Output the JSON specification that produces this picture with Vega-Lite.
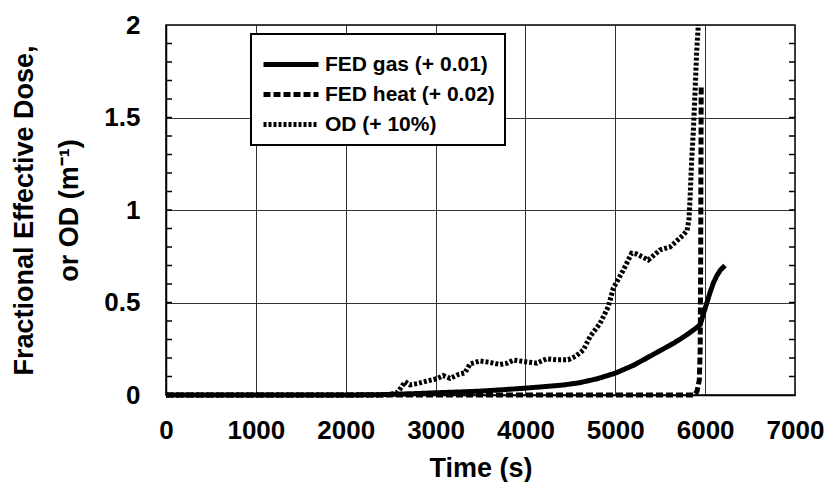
{
  "$schema": "https://vega.github.io/schema/vega-lite/v6.json",
  "width": 629,
  "height": 370,
  "autosize": "none",
  "padding": {"left": 166, "top": 25, "right": 32, "bottom": 87},
  "background": "white",
  "config": {
    "view": {"stroke": "black", "strokeWidth": 1.5},
    "font": "Liberation Sans"
  },
  "datasets": {
    "curves": [
      {"series": "FED gas (+ 0.01)", "t": 0, "v": 0},
      {"series": "FED gas (+ 0.01)", "t": 1000, "v": 0},
      {"series": "FED gas (+ 0.01)", "t": 2000, "v": 0},
      {"series": "FED gas (+ 0.01)", "t": 2400, "v": 0.002},
      {"series": "FED gas (+ 0.01)", "t": 2800, "v": 0.008},
      {"series": "FED gas (+ 0.01)", "t": 3000, "v": 0.012},
      {"series": "FED gas (+ 0.01)", "t": 3300, "v": 0.017},
      {"series": "FED gas (+ 0.01)", "t": 3500, "v": 0.021},
      {"series": "FED gas (+ 0.01)", "t": 3700, "v": 0.027},
      {"series": "FED gas (+ 0.01)", "t": 4000, "v": 0.037},
      {"series": "FED gas (+ 0.01)", "t": 4200, "v": 0.045},
      {"series": "FED gas (+ 0.01)", "t": 4420, "v": 0.054},
      {"series": "FED gas (+ 0.01)", "t": 4600, "v": 0.066},
      {"series": "FED gas (+ 0.01)", "t": 4800, "v": 0.088},
      {"series": "FED gas (+ 0.01)", "t": 5000, "v": 0.118},
      {"series": "FED gas (+ 0.01)", "t": 5200, "v": 0.16},
      {"series": "FED gas (+ 0.01)", "t": 5350, "v": 0.2},
      {"series": "FED gas (+ 0.01)", "t": 5500, "v": 0.24},
      {"series": "FED gas (+ 0.01)", "t": 5650, "v": 0.28},
      {"series": "FED gas (+ 0.01)", "t": 5780, "v": 0.32},
      {"series": "FED gas (+ 0.01)", "t": 5880, "v": 0.355},
      {"series": "FED gas (+ 0.01)", "t": 5945, "v": 0.38},
      {"series": "FED gas (+ 0.01)", "t": 5975, "v": 0.43},
      {"series": "FED gas (+ 0.01)", "t": 6017, "v": 0.495},
      {"series": "FED gas (+ 0.01)", "t": 6055, "v": 0.555},
      {"series": "FED gas (+ 0.01)", "t": 6091, "v": 0.605},
      {"series": "FED gas (+ 0.01)", "t": 6130, "v": 0.645},
      {"series": "FED gas (+ 0.01)", "t": 6170, "v": 0.675},
      {"series": "FED gas (+ 0.01)", "t": 6220, "v": 0.70},
      {"series": "FED heat (+ 0.02)", "t": 0, "v": 0},
      {"series": "FED heat (+ 0.02)", "t": 5880, "v": 0},
      {"series": "FED heat (+ 0.02)", "t": 5910, "v": 0.02},
      {"series": "FED heat (+ 0.02)", "t": 5935, "v": 0.08},
      {"series": "FED heat (+ 0.02)", "t": 5945, "v": 0.25},
      {"series": "FED heat (+ 0.02)", "t": 5950, "v": 0.7},
      {"series": "FED heat (+ 0.02)", "t": 5953, "v": 1.2},
      {"series": "FED heat (+ 0.02)", "t": 5956, "v": 1.67},
      {"series": "OD (+ 10%)", "t": 0, "v": 0},
      {"series": "OD (+ 10%)", "t": 2400, "v": 0},
      {"series": "OD (+ 10%)", "t": 2500, "v": 0.003},
      {"series": "OD (+ 10%)", "t": 2580, "v": 0.015},
      {"series": "OD (+ 10%)", "t": 2630, "v": 0.05},
      {"series": "OD (+ 10%)", "t": 2660, "v": 0.072},
      {"series": "OD (+ 10%)", "t": 2715, "v": 0.055},
      {"series": "OD (+ 10%)", "t": 2800, "v": 0.062},
      {"series": "OD (+ 10%)", "t": 2900, "v": 0.075},
      {"series": "OD (+ 10%)", "t": 3012, "v": 0.088},
      {"series": "OD (+ 10%)", "t": 3086, "v": 0.105},
      {"series": "OD (+ 10%)", "t": 3160, "v": 0.09},
      {"series": "OD (+ 10%)", "t": 3250, "v": 0.11},
      {"series": "OD (+ 10%)", "t": 3327, "v": 0.12},
      {"series": "OD (+ 10%)", "t": 3383, "v": 0.168},
      {"series": "OD (+ 10%)", "t": 3494, "v": 0.184},
      {"series": "OD (+ 10%)", "t": 3600, "v": 0.177},
      {"series": "OD (+ 10%)", "t": 3717, "v": 0.165},
      {"series": "OD (+ 10%)", "t": 3800, "v": 0.172},
      {"series": "OD (+ 10%)", "t": 3865, "v": 0.189},
      {"series": "OD (+ 10%)", "t": 4000, "v": 0.18},
      {"series": "OD (+ 10%)", "t": 4125, "v": 0.172},
      {"series": "OD (+ 10%)", "t": 4236, "v": 0.196},
      {"series": "OD (+ 10%)", "t": 4350, "v": 0.19},
      {"series": "OD (+ 10%)", "t": 4477, "v": 0.19},
      {"series": "OD (+ 10%)", "t": 4560, "v": 0.21},
      {"series": "OD (+ 10%)", "t": 4644, "v": 0.243},
      {"series": "OD (+ 10%)", "t": 4718, "v": 0.315},
      {"series": "OD (+ 10%)", "t": 4830, "v": 0.387},
      {"series": "OD (+ 10%)", "t": 4922, "v": 0.477},
      {"series": "OD (+ 10%)", "t": 4978, "v": 0.577},
      {"series": "OD (+ 10%)", "t": 5090, "v": 0.676},
      {"series": "OD (+ 10%)", "t": 5182, "v": 0.766},
      {"series": "OD (+ 10%)", "t": 5238, "v": 0.762},
      {"series": "OD (+ 10%)", "t": 5367, "v": 0.73},
      {"series": "OD (+ 10%)", "t": 5497, "v": 0.784},
      {"series": "OD (+ 10%)", "t": 5609, "v": 0.80},
      {"series": "OD (+ 10%)", "t": 5700, "v": 0.84},
      {"series": "OD (+ 10%)", "t": 5757, "v": 0.865},
      {"series": "OD (+ 10%)", "t": 5800, "v": 0.89},
      {"series": "OD (+ 10%)", "t": 5820, "v": 0.95},
      {"series": "OD (+ 10%)", "t": 5831, "v": 1.05},
      {"series": "OD (+ 10%)", "t": 5850, "v": 1.27},
      {"series": "OD (+ 10%)", "t": 5868, "v": 1.42},
      {"series": "OD (+ 10%)", "t": 5887, "v": 1.63},
      {"series": "OD (+ 10%)", "t": 5905, "v": 1.85},
      {"series": "OD (+ 10%)", "t": 5924, "v": 2.0}
    ],
    "minor": [
      {"v": 0.1}, {"v": 0.2}, {"v": 0.3}, {"v": 0.4}, {"v": 0.5},
      {"v": 0.6}, {"v": 0.7}, {"v": 0.8}, {"v": 0.9}, {"v": 1.0},
      {"v": 1.1}, {"v": 1.2}, {"v": 1.3}, {"v": 1.4}, {"v": 1.5},
      {"v": 1.6}, {"v": 1.7}, {"v": 1.8}, {"v": 1.9}
    ]
  },
  "layer": [
    {
      "data": {"name": "curves"},
      "mark": {"type": "line", "color": "black", "clip": false},
      "encoding": {
        "x": {
          "field": "t", "type": "quantitative",
          "scale": {"domain": [0, 7000], "nice": false},
          "axis": {
            "title": "Time (s)",
            "values": [0, 1000, 2000, 3000, 4000, 5000, 6000, 7000],
            "format": "d",
            "grid": true, "gridColor": "#333", "gridWidth": 1,
            "ticks": false,
            "domainColor": "black", "domainWidth": 1.5,
            "labelFont": "Liberation Sans", "labelFontSize": 26, "labelFontWeight": "bold", "labelColor": "black",
            "labelPadding": 22, "labelFlush": false,
            "titleFont": "Liberation Sans", "titleFontSize": 27, "titleFontWeight": "bold", "titleColor": "black",
            "titlePadding": 12
          }
        },
        "y": {
          "field": "v", "type": "quantitative",
          "scale": {"domain": [0, 2], "nice": false},
          "axis": {
            "title": ["Fractional Effective Dose,", "or OD (m⁻¹)"],
            "values": [0, 0.5, 1, 1.5, 2],
            "format": "~g",
            "grid": true, "gridColor": "#333", "gridWidth": 1,
            "ticks": false,
            "domainColor": "black", "domainWidth": 1.5,
            "labelFont": "Liberation Sans", "labelFontSize": 26, "labelFontWeight": "bold", "labelColor": "black",
            "labelPadding": 26, "labelFlush": false,
            "titleFont": "Liberation Sans", "titleFontSize": 27, "titleFontWeight": "bold", "titleColor": "black",
            "titleLineHeight": 45, "titlePadding": 20
          }
        },
        "strokeDash": {
          "field": "series", "type": "nominal",
          "scale": {"domain": ["FED gas (+ 0.01)", "FED heat (+ 0.02)", "OD (+ 10%)"], "range": [[1, 0], [7, 3], [3, 2]]},
          "legend": {
            "title": " ", "titleFontSize": 6, "titlePadding": 4,
            "orient": "none", "legendX": 85, "legendY": 9,
            "symbolType": "stroke", "symbolSize": 3025, "symbolStrokeColor": "black", "clipHeight": 21,
            "labelFont": "Liberation Sans", "labelFontSize": 21, "labelFontWeight": "bold", "labelColor": "black",
            "labelLimit": 400, "labelOffset": 4, "rowPadding": 8, "padding": 10,
            "strokeColor": "black", "fillColor": "white",
            "encode": {"legend": {"update": {"strokeWidth": {"value": 2}}}}
          }
        },
        "strokeWidth": {
          "field": "series", "type": "nominal",
          "scale": {"domain": ["FED gas (+ 0.01)", "FED heat (+ 0.02)", "OD (+ 10%)"], "range": [5, 5, 2]},
          "legend": {
            "title": " ", "titleFontSize": 6, "titlePadding": 4,
            "orient": "none", "legendX": 85, "legendY": 9,
            "symbolType": "stroke", "symbolSize": 3025, "symbolStrokeColor": "black", "clipHeight": 21,
            "labelFont": "Liberation Sans", "labelFontSize": 21, "labelFontWeight": "bold", "labelColor": "black",
            "labelLimit": 400, "labelOffset": 4, "rowPadding": 8, "padding": 10,
            "strokeColor": "black", "fillColor": "white",
            "encode": {"legend": {"update": {"strokeWidth": {"value": 2}}}}
          }
        }
      }
    },
    {
      "data": {"name": "minor"},
      "mark": {"type": "rule", "color": "black", "strokeWidth": 1.5},
      "encoding": {
        "y": {"field": "v", "type": "quantitative", "scale": {"domain": [0, 2], "nice": false}, "axis": null},
        "x": {"datum": 0, "type": "quantitative"},
        "x2": {"datum": 67}
      }
    },
    {
      "data": {"name": "minor"},
      "mark": {"type": "rule", "color": "black", "strokeWidth": 1.5},
      "encoding": {
        "y": {"field": "v", "type": "quantitative", "scale": {"domain": [0, 2], "nice": false}, "axis": null},
        "x": {"datum": 6933, "type": "quantitative"},
        "x2": {"datum": 7000}
      }
    }
  ],
  "resolve": {"scale": {"y": "independent"}, "axis": {"y": "independent"}}
}
